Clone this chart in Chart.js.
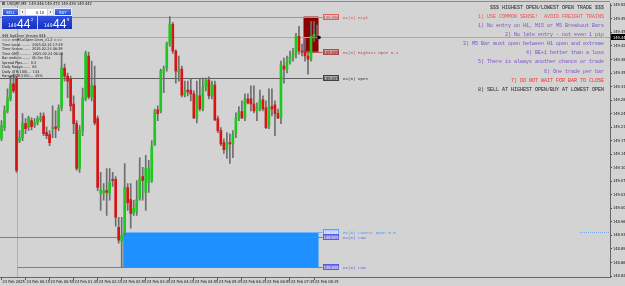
<!DOCTYPE html>
<html>
<head>
<meta charset="utf-8">
<script src="https://cdn.jsdelivr.net/npm/chart.js@4.4.1/dist/chart.umd.min.js"></script>
<style>
html, body { margin: 0; padding: 0; background: #d3d3d3; overflow: hidden; }
#wrap { width: 625px; height: 286px; }
</style>
</head>
<body>
<div id="wrap"><canvas id="chart" width="625" height="286"></canvas></div>
<script>
// USDJPY M5, bars from 23 Feb 23:35 to 24 Feb 08:20
const opens = [
  149.180, 149.209, 149.252, 149.283, 149.322,
  149.337, 149.175, 149.183, 149.219, 149.209, 149.227, 149.214, 149.221, 149.229, 149.239,
  149.196, 149.191, 149.206, 149.211, 149.209, 149.260, 149.363, 149.342, 149.335, 149.270,
  149.219, 149.103, 149.201, 149.283, 149.394, 149.288, 149.317, 149.232, 149.039, 149.039,
  149.046, 149.039, 149.075, 149.075, 148.951, 148.915, 148.938, 149.054, 149.023, 148.987,
  148.992, 149.026, 149.082, 149.041, 149.067, 149.072, 149.165, 149.255, 149.252, 149.350,
  149.363, 149.425, 149.476, 149.407, 149.353, 149.360, 149.293, 149.306, 149.306, 149.296,
  149.234, 149.291, 149.257, 149.314, 149.332, 149.291, 149.319, 149.232, 149.201, 149.170,
  149.152, 149.170, 149.167, 149.193, 149.232, 149.250, 149.234, 149.283, 149.283, 149.270,
  149.252, 149.257, 149.281, 149.260, 149.214, 149.263, 149.268, 149.245, 149.234, 149.368,
  149.360, 149.378, 149.391, 149.401, 149.445, 149.407, 149.405, 149.394, 149.386, 149.445,
  149.446
];
const highs = [
  149.227, 149.265, 149.309, 149.342, 149.347,
  149.342, 149.201, 149.245, 149.232, 149.239, 149.234, 149.232, 149.239, 149.247, 149.247,
  149.211, 149.201, 149.265, 149.252, 149.268, 149.399, 149.373, 149.350, 149.342, 149.291,
  149.227, 149.214, 149.311, 149.407, 149.404, 149.381, 149.368, 149.239, 149.093, 149.064,
  149.103, 149.103, 149.093, 149.082, 148.977, 148.977, 149.116, 149.064, 149.064, 149.021,
  149.072, 149.131, 149.106, 149.137, 149.124, 149.175, 149.257, 149.265, 149.360, 149.368,
  149.430, 149.496, 149.481, 149.410, 149.394, 149.368, 149.329, 149.329, 149.335, 149.304,
  149.329, 149.335, 149.337, 149.337, 149.340, 149.329, 149.329, 149.239, 149.209, 149.180,
  149.196, 149.193, 149.201, 149.247, 149.263, 149.278, 149.296, 149.296, 149.317, 149.317,
  149.273, 149.306, 149.291, 149.278, 149.309, 149.309, 149.278, 149.257, 149.381, 149.389,
  149.394, 149.407, 149.414, 149.453, 149.471, 149.425, 149.440, 149.407, 149.484, 149.484,
  149.474
];
const lows = [
  149.175, 149.201, 149.247, 149.278, 149.299,
  149.093, 149.170, 149.175, 149.193, 149.201, 149.203, 149.209, 149.216, 149.224, 149.188,
  149.180, 149.162, 149.183, 149.183, 149.201, 149.252, 149.329, 149.286, 149.252, 149.193,
  149.098, 149.093, 149.188, 149.278, 149.283, 149.278, 149.216, 149.046, 148.995, 149.021,
  148.982, 149.021, 149.057, 148.954, 148.910, 148.848, 148.931, 148.995, 148.949, 148.982,
  148.982, 149.021, 149.021, 148.995, 149.041, 149.067, 149.162, 149.227, 149.247, 149.299,
  149.355, 149.419, 149.401, 149.324, 149.329, 149.288, 149.288, 149.291, 149.278, 149.232,
  149.221, 149.252, 149.252, 149.304, 149.283, 149.283, 149.227, 149.196, 149.162, 149.142,
  149.129, 149.116, 149.131, 149.183, 149.227, 149.232, 149.227, 149.270, 149.252, 149.247,
  149.227, 149.252, 149.252, 149.206, 149.206, 149.239, 149.188, 149.232, 149.219, 149.324,
  149.350, 149.373, 149.381, 149.389, 149.399, 149.394, 149.381, 149.347, 149.381, 149.432,
  149.439
];
const closes = [
  149.214, 149.252, 149.286, 149.322, 149.304,
  149.098, 149.183, 149.221, 149.206, 149.234, 149.211, 149.221, 149.232, 149.234, 149.193,
  149.188, 149.170, 149.209, 149.206, 149.260, 149.363, 149.342, 149.329, 149.265, 149.219,
  149.103, 149.201, 149.286, 149.401, 149.288, 149.319, 149.221, 149.054, 149.046, 149.046,
  149.041, 149.067, 149.072, 148.977, 148.918, 148.931, 149.054, 149.015, 148.987, 149.000,
  149.023, 149.077, 149.072, 149.103, 149.103, 149.160, 149.252, 149.245, 149.355, 149.360,
  149.425, 149.476, 149.407, 149.355, 149.360, 149.293, 149.304, 149.301, 149.296, 149.234,
  149.293, 149.257, 149.314, 149.332, 149.291, 149.322, 149.229, 149.201, 149.167, 149.152,
  149.170, 149.167, 149.191, 149.232, 149.250, 149.234, 149.283, 149.273, 149.270, 149.252,
  149.260, 149.281, 149.257, 149.209, 149.263, 149.257, 149.245, 149.234, 149.371, 149.360,
  149.378, 149.391, 149.401, 149.445, 149.407, 149.404, 149.394, 149.386, 149.445, 149.450,
  149.442
];

const yTicks = [149.525, 149.490, 149.455, 149.420, 149.385, 149.350, 149.315, 149.280, 149.245,
  149.210, 149.175, 149.140, 149.105, 149.070, 149.035, 149.000, 148.965, 148.930, 148.895,
  148.860, 148.825];
const firstTickLabel = '23 Feb 2025';
const xTickLabels = ['24 Feb 00:15', '24 Feb 00:55', '24 Feb 01:35', '24 Feb 02:15', '24 Feb 02:55',
  '24 Feb 03:35', '24 Feb 04:15', '24 Feb 04:55', '24 Feb 05:35', '24 Feb 06:15', '24 Feb 06:55',
  '24 Feb 07:35', '24 Feb 08:15'];

// levels drawn by the indicators
const d1High = 149.496;
const h1HighestOpen = 149.405;
const bidPrice = 149.442;
const d1Open = 149.337;
const h1LowestOpen = 148.938;
const d1LowA = 148.925;
const d1Low = 148.848;
const dayStartLabel = '24 Feb 00:00';
const h1StartLabel = '24 Feb 08:00';
const lowBoxStartLabel = '24 Feb 03:00';

const symbolHeader = 'USDJPY,M5  149.446 149.474 149.439 149.442';
const infoLines = [
  '$$$ TopDiver Version $$$',
  '=== smHiLoOpen Lines_v1.2 ===',
  'Time Local.........  2025.02.24 17:29',
  'Time Server.......  2025.02.24 08:29',
  'Time GMT...........  2025.02.24 06:29',
  'Bar ends in........  0h 0m 31s',
  'Spread Pips......  0.3',
  'Daily Range.......  65',
  'Daily ATR(100)...  144',
  'Range/ATR(100)...  45%'
];
const ruleLines = [
  '$$$ HIGHEST OPEN/LOWEST OPEN TRADE $$$',
  '1) USE COMMON SENSE!  AVOID FREIGHT TRAINS',
  '1) No entry on H1, M15 or M5 Breakout Bars',
  '2) No late entry - not even 1 pip',
  '3) M5 Bar must open between H1 open and extreme',
  '4) BE+1 better than a loss',
  '5) There is always another chance or trade',
  '6) One trade per bar',
  '7) DO NOT WAIT FOR BAR TO CLOSE',
  '8) SELL AT HIGHEST OPEN/BUY AT LOWEST OPEN'
];
const ruleColors = ['#222', '#f05050', '#7a4fc8', '#7a4fc8', '#7a4fc8', '#7a4fc8', '#7a4fc8',
  '#7a4fc8', '#ff2a2a', '#222'];

const totalSlots = 203; // bars plus the empty shift area on the right
const pad2 = n => String(n).padStart(2, '0');
const labels = [];
for (let k = 0; k < totalSlots; k++) {
  let m = (k - 5) * 5;
  let day = '24 Feb ';
  if (m < 0) { m += 1440; day = '23 Feb '; }
  labels.push(day + pad2(Math.floor(m / 60)) + ':' + pad2(m % 60));
}

const bodies = opens.map((o, i) => [o, closes[i]]);
const wicks = lows.map((l, i) => [l, highs[i]]);
const bodyColors = opens.map((o, i) => closes[i] >= o ? '#1ec81e' : '#d81414');

const narrow = "'Liberation Sans Narrow', 'DejaVu Sans Condensed', sans-serif";
const mono = "'Liberation Mono', 'DejaVu Sans Mono', monospace";

function hline(ctx, x1, x2, yy, color, dash) {
  ctx.strokeStyle = color;
  ctx.setLineDash(dash || []);
  ctx.beginPath();
  ctx.moveTo(x1, Math.round(yy) + 0.5);
  ctx.lineTo(x2, Math.round(yy) + 0.5);
  ctx.stroke();
  ctx.setLineDash([]);
}

function tag(ctx, x0, yy, price, name, fill, edge, txt, nameColor) {
  const ty = Math.round(yy);
  ctx.fillStyle = fill;
  ctx.fillRect(x0, ty - 3, 16, 6);
  ctx.strokeStyle = edge;
  ctx.strokeRect(x0 + 0.5, ty - 2.5, 15, 5);
  ctx.fillStyle = txt;
  ctx.font = '4px ' + narrow;
  ctx.textAlign = 'center';
  ctx.textBaseline = 'middle';
  ctx.fillText(price.toFixed(3), x0 + 8, ty + 0.5);
  ctx.fillStyle = nameColor;
  ctx.font = '4.2px ' + mono;
  ctx.textAlign = 'left';
  ctx.fillText(name, x0 + 20, ty + 0.5);
}

function button(ctx, x0, y0, w, h, text) {
  const g = ctx.createLinearGradient(0, y0, 0, y0 + h);
  g.addColorStop(0, '#5a86f2');
  g.addColorStop(1, '#1f3fcc');
  ctx.fillStyle = g;
  ctx.fillRect(x0, y0, w, h);
  ctx.strokeStyle = '#e8ecff';
  ctx.strokeRect(x0 + 0.5, y0 + 0.5, w - 1, h - 1);
  ctx.fillStyle = '#fff';
  ctx.font = '4px ' + narrow;
  ctx.textAlign = 'center';
  ctx.textBaseline = 'middle';
  ctx.fillText(text, x0 + w / 2, y0 + h / 2 + 0.5);
}

function priceBox(ctx, x0, y0, w, h, big, pip) {
  const g = ctx.createLinearGradient(0, y0, 0, y0 + h);
  g.addColorStop(0, '#2f52e0');
  g.addColorStop(1, '#1630c0');
  ctx.fillStyle = g;
  ctx.fillRect(x0, y0, w, h);
  ctx.fillStyle = '#fff';
  ctx.textAlign = 'left';
  ctx.textBaseline = 'alphabetic';
  ctx.font = '5px ' + narrow;
  ctx.fillText('149', x0 + 6, y0 + 10.5);
  ctx.font = '12px Liberation Sans, Arial, sans-serif';
  ctx.fillText(big, x0 + 15, y0 + 11.5);
  ctx.font = '4px ' + narrow;
  ctx.fillText(pip, x0 + 29, y0 + 4.5);
}

const overlay = {
  id: 'overlay',
  beforeDatasetsDraw(chart) {
    const { ctx, chartArea: a, scales: { x, y } } = chart;
    const step = x.getPixelForValue(1) - x.getPixelForValue(0);
    const lastX = x.getPixelForValue(opens.length - 1) + step / 2;
    const sepX = Math.round(x.getPixelForValue(labels.indexOf(dayStartLabel))) + 0.5;
    const h1X = x.getPixelForValue(labels.indexOf(h1StartLabel)) - step / 2;
    const lowX = x.getPixelForValue(labels.indexOf(lowBoxStartLabel)) - step / 2;
    const tagX = lastX + 4;
    ctx.save();
    ctx.lineWidth = 1;
    // period separator
    ctx.strokeStyle = '#8c8c8c';
    ctx.setLineDash([1, 1]);
    ctx.beginPath();
    ctx.moveTo(sepX, a.top);
    ctx.lineTo(sepX, a.bottom);
    ctx.stroke();
    ctx.setLineDash([]);
    // current H1 box and lowest open box
    ctx.fillStyle = '#8b0000';
    ctx.fillRect(h1X, y.getPixelForValue(d1High), lastX - h1X,
      y.getPixelForValue(h1HighestOpen) - y.getPixelForValue(d1High));
    ctx.fillStyle = '#1e90ff';
    ctx.fillRect(lowX, y.getPixelForValue(h1LowestOpen), lastX - lowX,
      y.getPixelForValue(d1Low) - y.getPixelForValue(h1LowestOpen));
    // level lines
    hline(ctx, a.left, a.right, y.getPixelForValue(bidPrice), '#a2aab8');
    hline(ctx, a.left, tagX, y.getPixelForValue(d1High), '#e27a7a');
    hline(ctx, h1X, tagX, y.getPixelForValue(h1HighestOpen), '#c05858');
    hline(ctx, a.left, tagX, y.getPixelForValue(d1Open), '#5e5e5e');
    hline(ctx, lowX, tagX, y.getPixelForValue(h1LowestOpen), '#6fb2ff');
    hline(ctx, a.left, tagX, y.getPixelForValue(d1LowA), '#7272e6');
    hline(ctx, sepX, tagX, y.getPixelForValue(d1Low), '#7272e6');
    hline(ctx, a.right - 30, a.right, y.getPixelForValue(h1LowestOpen), '#7fa8e8', [1, 1]);
    ctx.restore();
  },
  afterDatasetsDraw(chart) {
    const { ctx, scales: { x, y } } = chart;
    const step = x.getPixelForValue(1) - x.getPixelForValue(0);
    const lastX = x.getPixelForValue(opens.length - 1) + step / 2;
    const tagX = Math.round(lastX + 4);
    ctx.save();
    ctx.lineWidth = 1;
    tag(ctx, tagX, y.getPixelForValue(d1High), d1High, 'D1(0) High', '#d8c4c4', '#e06060', '#d04040', '#e85050');
    tag(ctx, tagX, y.getPixelForValue(h1HighestOpen), h1HighestOpen, 'H1(0) Highest Open 0.1', '#d49a9a', '#b04848', '#6a1a1a', '#b84848');
    tag(ctx, tagX, y.getPixelForValue(d1Open), d1Open, 'D1(0) Open', '#a6a6a6', '#404040', '#222', '#333');
    tag(ctx, tagX, y.getPixelForValue(h1LowestOpen), h1LowestOpen, 'H1(0) Lowest Open 0.0', '#a9cbff', '#5aa0ff', '#f4f8ff', '#4a98ff');
    tag(ctx, tagX, y.getPixelForValue(d1LowA), d1LowA, 'D1(0) Low', '#7c7ce8', '#5a5ad8', '#f0f0ff', '#5e5ed8');
    tag(ctx, tagX, y.getPixelForValue(d1Low), d1Low, 'D1(0) Low', '#7c7ce8', '#5a5ad8', '#f0f0ff', '#5e5ed8');
    // current price marker
    ctx.fillStyle = '#111';
    ctx.beginPath();
    ctx.arc(lastX + 0.5, y.getPixelForValue(bidPrice), 1.8, 0, Math.PI * 2);
    ctx.fill();
    ctx.restore();
  },
  afterDraw(chart) {
    const { ctx, chartArea: a, scales: { y } } = chart;
    ctx.save();
    ctx.lineWidth = 1;
    // top frame line
    ctx.strokeStyle = '#8a8a8a';
    ctx.beginPath();
    ctx.moveTo(0, 1.5);
    ctx.lineTo(a.right, 1.5);
    ctx.stroke();
    // bid price box on the axis
    const by = Math.round(y.getPixelForValue(bidPrice));
    ctx.fillStyle = '#000';
    ctx.fillRect(a.right + 1, by - 3, 625 - a.right - 1, 6);
    ctx.fillStyle = '#fff';
    ctx.font = '4px ' + narrow;
    ctx.textAlign = 'left';
    ctx.textBaseline = 'middle';
    ctx.fillText(bidPrice.toFixed(3), a.right + 3, by + 0.5);
    // rules text, top right
    ctx.font = '5px ' + mono;
    ctx.textAlign = 'right';
    ruleLines.forEach((t, j) => {
      ctx.fillStyle = ruleColors[j];
      ctx.fillText(t, a.right - 6, 7.5 + j * 9.1);
    });
    // trade panel, top left
    ctx.textAlign = 'left';
    ctx.fillStyle = '#6a6a6a';
    ctx.fillRect(2, 2, 3, 3);
    ctx.fillStyle = '#111';
    ctx.font = '4px ' + narrow;
    ctx.fillText(symbolHeader, 7, 4);
    button(ctx, 2, 8, 17, 8, 'SELL');
    button(ctx, 54, 8, 18, 8, 'BUY');
    ctx.fillStyle = '#eeeeee';
    ctx.fillRect(20, 9, 5, 6);
    ctx.fillRect(48, 9, 5, 6);
    ctx.fillStyle = '#ffffff';
    ctx.fillRect(26, 9, 21, 6);
    ctx.fillStyle = '#111';
    ctx.fillRect(22, 11.5, 1, 1);
    ctx.fillRect(50, 11.5, 1, 1);
    ctx.font = '4px ' + narrow;
    ctx.textAlign = 'center';
    ctx.fillText('0.10', 40, 12.5);
    priceBox(ctx, 2, 16, 35, 13, '44', '2');
    priceBox(ctx, 38, 16, 34, 13, '44', '5');
    ctx.fillStyle = '#1a1a1a';
    ctx.textAlign = 'left';
    ctx.textBaseline = 'middle';
    ctx.font = '3.8px ' + narrow;
    infoLines.forEach((t, j) => ctx.fillText(t, 2, 36 + j * 4.45));
    ctx.restore();
  }
};

new Chart(document.getElementById('chart'), {
  type: 'bar',
  data: {
    labels: labels,
    datasets: [
      { data: bodies, backgroundColor: bodyColors, barThickness: 2, grouped: false, minBarLength: 1, borderWidth: 0 },
      { data: wicks, backgroundColor: '#6e6e6e', barThickness: 1, grouped: false, borderWidth: 0 }
    ]
  },
  options: {
    responsive: false,
    animation: false,
    devicePixelRatio: 1,
    layout: { padding: { top: 2, left: 0, right: 0, bottom: 0 } },
    plugins: { legend: { display: false }, tooltip: { enabled: false } },
    scales: {
      x: {
        afterFit: s => { s.height = 9; },
        ticks: {
          autoSkip: false, maxRotation: 0, minRotation: 0, align: 'start', labelOffset: 1, padding: 0,
          font: { size: 4, family: narrow }, color: '#111',
          callback: (v, i) => i === 0 ? firstTickLabel : (xTickLabels.includes(labels[i]) ? labels[i] : '')
        },
        grid: {
          drawOnChartArea: false, tickLength: 3, offset: false,
          color: c => (c.tick && c.tick.label) ? '#555' : 'rgba(0,0,0,0)'
        },
        border: { color: '#666', width: 1 }
      },
      y: {
        position: 'right',
        min: 148.8225,
        max: 149.5301,
        afterBuildTicks: s => { s.ticks = yTicks.map(v => ({ value: v })); },
        afterFit: s => { s.width = 15; },
        ticks: { font: { size: 4, family: narrow }, color: '#111', padding: 1, callback: v => v.toFixed(3) },
        grid: { drawOnChartArea: false, tickLength: 2, color: '#444' },
        border: { color: '#666', width: 1 }
      }
    }
  },
  plugins: [overlay]
});
</script>
</body>
</html>
